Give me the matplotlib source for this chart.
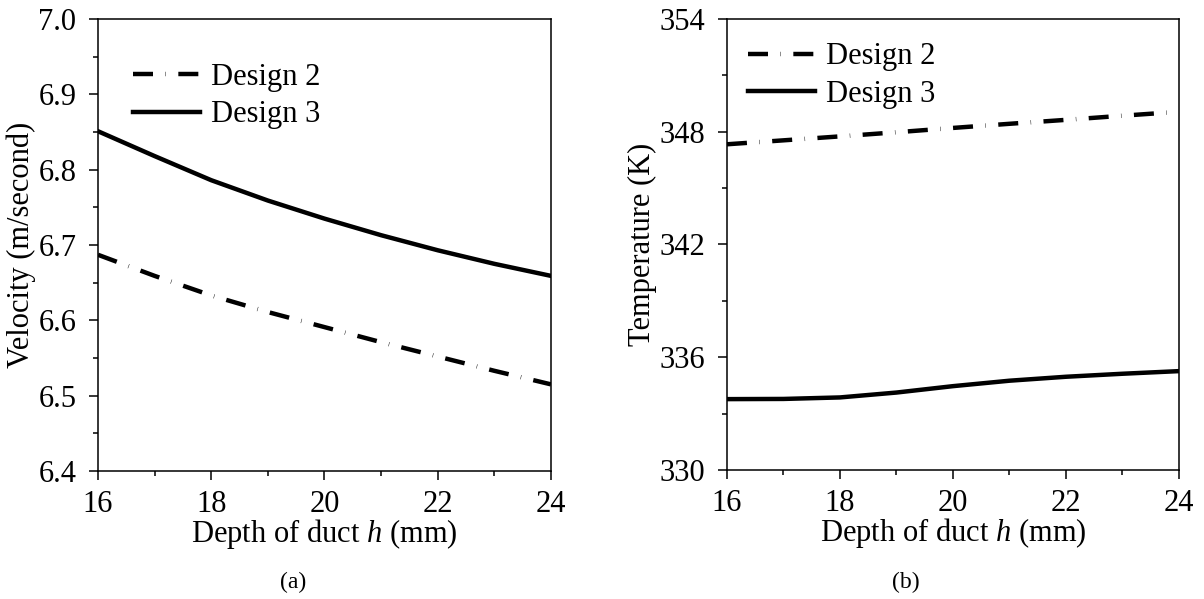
import numpy as np
import matplotlib
matplotlib.use("Agg")
import matplotlib.pyplot as plt
from matplotlib.ticker import MultipleLocator, FormatStrFormatter

plt.rcParams["font.family"] = "Liberation Serif"
plt.rcParams["mathtext.fontset"] = "custom"
plt.rcParams["mathtext.rm"] = "Liberation Serif"
plt.rcParams["mathtext.it"] = "Liberation Serif:italic"

# ---- data ----
depth = [16, 17, 18, 19, 20, 21, 22, 23, 24]
vel_d2 = [6.687, 6.659, 6.633, 6.611, 6.591, 6.571, 6.552, 6.533, 6.515]
vel_d3 = [6.851, 6.818, 6.786, 6.759, 6.735, 6.713, 6.693, 6.675, 6.659]
temp_d2 = [347.33, 347.54, 347.75, 347.97, 348.20, 348.42, 348.63, 348.85, 349.06]
temp_d3 = [333.77, 333.78, 333.86, 334.12, 334.46, 334.75, 334.96, 335.12, 335.26]

DASHDOT = (0, (4.5, 2.8, 0.1, 2.8))
FS = 22
LW = 3.2

fig = plt.figure(figsize=(12.04, 5.99), dpi=100)
ax1 = fig.add_axes([0.0814, 0.2137, 0.3762, 0.7546])
ax2 = fig.add_axes([0.6038, 0.2154, 0.3754, 0.7530])


def style(ax, ymaj, ymin):
    ax.set_xlim(16, 24)
    ax.xaxis.set_major_locator(MultipleLocator(2))
    ax.xaxis.set_minor_locator(MultipleLocator(1))
    ax.yaxis.set_major_locator(MultipleLocator(ymaj))
    ax.yaxis.set_minor_locator(MultipleLocator(ymin))
    ax.tick_params(which="both", direction="out", labelsize=FS, width=1.1,
                   top=False, right=False)
    ax.tick_params(which="major", length=6.5)
    ax.tick_params(axis="y", which="major", pad=9)
    ax.tick_params(axis="x", which="major", pad=7)
    ax.tick_params(which="minor", length=3.5)
    for s in ax.spines.values():
        s.set_linewidth(1.1)
    ax.set_xlabel("Depth of duct $h$ (mm)", fontsize=FS, labelpad=-1)


# ---- (a) velocity ----
ax1.plot(depth, vel_d2, color="black", lw=LW, ls=DASHDOT, label="Design 2")
ax1.plot(depth, vel_d3, color="black", lw=LW, ls="-", label="Design 3")
ax1.set_ylim(6.4, 7.0)
style(ax1, 0.1, 0.05)
ax1.yaxis.set_major_formatter(FormatStrFormatter("%.1f"))
ax1.set_ylabel("Velocity (m/second)", fontsize=FS, labelpad=2)
ax1.legend(loc="upper left", bbox_to_anchor=(0.05, 0.93), frameon=False,
           fontsize=FS, handlelength=2.2, handletextpad=0.35,
           labelspacing=0.28, borderaxespad=0)

# ---- (b) temperature ----
ax2.plot(depth, temp_d2, color="black", lw=LW, ls=DASHDOT, label="Design 2")
ax2.plot(depth, temp_d3, color="black", lw=LW, ls="-", label="Design 3")
ax2.set_ylim(330, 354)
style(ax2, 6, 3)
ax2.set_ylabel("Temperature (K)", fontsize=FS, labelpad=2)
ax2.legend(loc="upper left", bbox_to_anchor=(0.02, 0.975), frameon=False,
           fontsize=FS, handlelength=2.2, handletextpad=0.35,
           labelspacing=0.28, borderaxespad=0)

fig.text(293 / 1204, 1 - 582 / 599, "(a)", ha="center", va="center", fontsize=17)
fig.text(906 / 1204, 1 - 582 / 599, "(b)", ha="center", va="center", fontsize=17)

fig.savefig("out.png", dpi=100)
